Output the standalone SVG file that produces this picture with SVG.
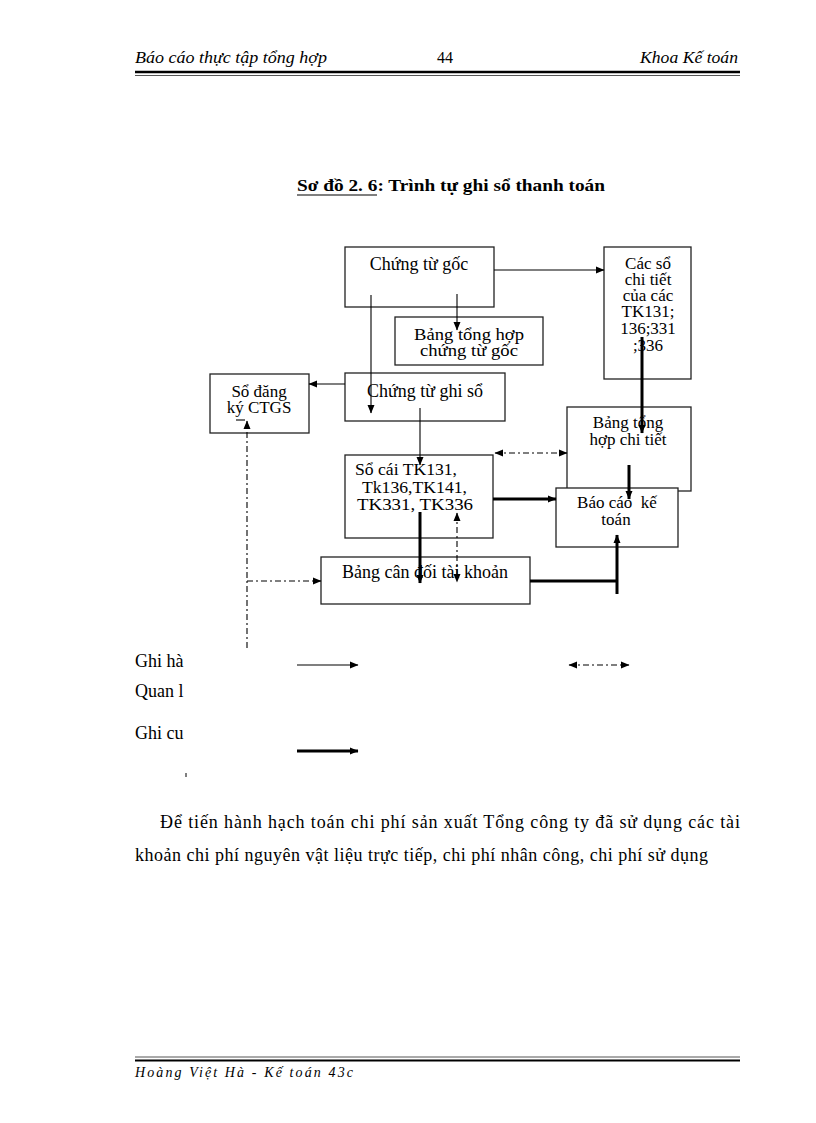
<svg xmlns="http://www.w3.org/2000/svg" width="816" height="1123" viewBox="0 0 816 1123">
<defs>
<style>
text{font-family:"Liberation Serif","Times New Roman",serif;fill:#000;}
.t{font-size:18px;}
.m{font-size:17px;}
.c{text-anchor:middle;}
.box{fill:#fff;stroke:#222;stroke-width:1.3;}
.thin{stroke:#000;stroke-width:1.1;fill:none;}
.thick{stroke:#000;stroke-width:3;fill:none;}
.dd{stroke:#000;stroke-width:1.1;fill:none;stroke-dasharray:6 3 2 3;}
.hdr{font-size:17px;font-style:italic;}
</style>
<marker id="ah" markerWidth="9" markerHeight="8" refX="8" refY="4" orient="auto-start-reverse" markerUnits="userSpaceOnUse">
<path d="M0,0.5 L8.5,4 L0,7.5 z" fill="#000"/>
</marker>
</defs>
<rect width="816" height="1123" fill="#fff"/>

<g id="header">
<text class="hdr" x="135" y="63" textLength="192" lengthAdjust="spacingAndGlyphs">Báo cáo thực tập tổng hợp</text>
<text x="445" y="63" font-size="16" class="c">44</text>
<text class="hdr" x="738" y="63" text-anchor="end" textLength="98" lengthAdjust="spacingAndGlyphs">Khoa Kế toán</text>
<line x1="135" y1="72" x2="740" y2="72" stroke="#000" stroke-width="2.5"/>
<line x1="135" y1="75.5" x2="740" y2="75.5" stroke="#555" stroke-width="1"/>
</g>

<g id="title">
<text x="297" y="191" font-size="17" font-weight="bold" textLength="308" lengthAdjust="spacingAndGlyphs">Sơ đồ 2. 6: Trình tự ghi sổ thanh toán</text>
<line x1="297" y1="195" x2="377" y2="195" stroke="#000" stroke-width="1.2"/>
</g>

<g id="n-chung-tu-goc">
<rect class="box" x="345" y="247" width="149" height="60"/>
<text class="t c" x="419" y="270">Chứng từ gốc</text>
</g>
<g id="n-bang-tong-hop-ctg">
<rect class="box" x="395" y="317" width="148" height="48"/>
<text class="m c" x="469" y="340" textLength="110" lengthAdjust="spacingAndGlyphs">Bảng tổng hợp</text>
<text class="m c" x="469" y="356" textLength="98" lengthAdjust="spacingAndGlyphs">chứng từ gốc</text>
</g>
<g id="n-cac-so-chi-tiet">
<rect class="box" x="604" y="247" width="87" height="132"/>
<text class="m c" x="648" y="269">Các sổ</text>
<text class="m c" x="648" y="285">chi tiết</text>
<text class="m c" x="648" y="301">của các</text>
<text class="m c" x="648" y="317">TK131;</text>
<text class="m c" x="648" y="334">136;331</text>
<text class="m c" x="648" y="351">;336</text>
</g>
<g id="n-so-dang-ky">
<rect class="box" x="210" y="374" width="99" height="59"/>
<text class="m c" x="259" y="397">Sổ đăng</text>
<text class="m c" x="259" y="413">ký CTGS</text>
</g>
<g id="n-chung-tu-ghi-so">
<rect class="box" x="345" y="373" width="160" height="48"/>
<text class="t c" x="425" y="397">Chứng từ ghi sổ</text>
</g>
<g id="n-bang-tong-hop-ct">
<rect class="box" x="567" y="407" width="124" height="84"/>
<text class="m c" x="628" y="428">Bảng tổng</text>
<text class="m c" x="628" y="445">hợp chi tiết</text>
</g>
<g id="n-so-cai">
<rect class="box" x="345" y="455" width="148" height="83"/>
<text class="m" x="355" y="475" textLength="102" lengthAdjust="spacingAndGlyphs">Sổ cái TK131,</text>
<text class="m" x="362" y="493" textLength="105" lengthAdjust="spacingAndGlyphs">Tk136,TK141,</text>
<text class="m" x="357" y="510" textLength="116" lengthAdjust="spacingAndGlyphs">TK331, TK336</text>
</g>
<g id="n-bao-cao">
<rect class="box" x="556" y="488" width="122" height="59"/>
<text class="m c" x="617" y="508" xml:space="preserve">Báo cáo  kế</text>
<text class="m c" x="616" y="525">toán</text>
</g>
<g id="n-bang-can-doi">
<rect class="box" x="321" y="557" width="209" height="47"/>
<text class="t c" x="425" y="578">Bảng cân đối tài khoản</text>
</g>

<g id="connectors">
<line class="thin" x1="494" y1="270" x2="604" y2="270" marker-end="url(#ah)"/>
<line class="thin" x1="371" y1="295" x2="371" y2="413" marker-end="url(#ah)"/>
<line class="thin" x1="457" y1="294" x2="457" y2="330" marker-end="url(#ah)"/>
<line class="thin" x1="345" y1="384" x2="309" y2="384" marker-end="url(#ah)"/>
<line class="thin" x1="420" y1="408" x2="420" y2="465" marker-end="url(#ah)"/>
<line class="thick" x1="642" y1="337" x2="642" y2="433" marker-end="url(#ah)"/>
<line class="dd" x1="495" y1="453" x2="567" y2="453" marker-start="url(#ah)" marker-end="url(#ah)"/>
<line class="thick" x1="629" y1="465" x2="629" y2="499" marker-end="url(#ah)"/>
<line class="thick" x1="493" y1="499" x2="556" y2="499" marker-end="url(#ah)"/>
<line class="thick" x1="420" y1="512" x2="420" y2="583" marker-end="url(#ah)"/>
<line class="dd" x1="457" y1="513" x2="457" y2="582" marker-start="url(#ah)" marker-end="url(#ah)"/>
<line class="thick" x1="530" y1="581" x2="617" y2="581"/>
<line class="thick" x1="617" y1="594" x2="617" y2="535" marker-end="url(#ah)"/>
<line class="dd" x1="247" y1="648" x2="247" y2="421" marker-end="url(#ah)"/>
<line class="thin" x1="236" y1="420" x2="245" y2="420"/>
<line class="dd" x1="247" y1="581" x2="321" y2="581" marker-end="url(#ah)"/>
</g>

<g id="legend">
<text class="t" x="135" y="667">Ghi hà</text>
<text class="t" x="135" y="697">Quan l</text>
<text class="t" x="135" y="739">Ghi cu</text>
<line class="thin" x1="297" y1="665" x2="358" y2="665" marker-end="url(#ah)"/>
<line class="dd" x1="569" y1="665" x2="629" y2="665" marker-start="url(#ah)" marker-end="url(#ah)"/>
<line class="thick" x1="297" y1="751" x2="358" y2="751" marker-end="url(#ah)"/>
<line x1="186" y1="773" x2="186" y2="777" stroke="#000" stroke-width="1"/>
</g>

<g id="paragraph">
<text class="t" x="160" y="828" textLength="580" lengthAdjust="spacing">Để tiến hành hạch toán chi phí sản xuất Tổng công ty đã sử dụng các tài</text>
<text class="t" x="135" y="861" textLength="573" lengthAdjust="spacing">khoản chi phí nguyên vật liệu trực tiếp, chi phí nhân công, chi phí sử dụng</text>
</g>

<g id="footer">
<line x1="135" y1="1057" x2="740" y2="1057" stroke="#555" stroke-width="1"/>
<line x1="135" y1="1060.5" x2="740" y2="1060.5" stroke="#000" stroke-width="2"/>
<text x="135" y="1077" font-size="14" font-style="italic" textLength="218" lengthAdjust="spacing">Hoàng Việt Hà - Kế toán 43c</text>
</g>
</svg>
